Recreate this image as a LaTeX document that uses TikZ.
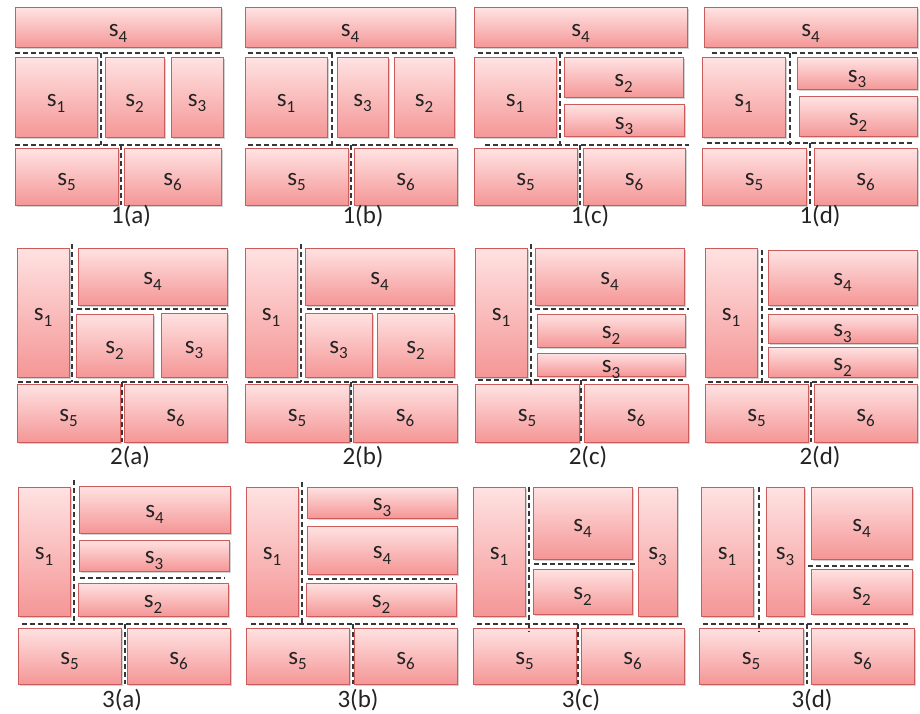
\documentclass[tikz,border=0pt]{standalone}
\usepackage{fontspec}
\setmainfont{Carlito}
\usetikzlibrary{shadows}
\definecolor{btop}{RGB}{255,226,226}
\definecolor{bbot}{RGB}{245,150,150}
\definecolor{bline}{RGB}{204,92,92}
\definecolor{dline}{RGB}{55,55,55}
\definecolor{txt}{RGB}{35,35,35}
\newcommand{\slab}[1]{\raisebox{-5pt}[\height][\depth]{s\raisebox{-0.5ex}{\fontsize{17}{18}\selectfont #1}}}
\tikzset{
  sbox/.style={draw=bline, line width=1pt, top color=btop, bottom color=bbot,
    inner sep=0pt, outer sep=0pt, text=txt,
    drop shadow={shadow xshift=1.5pt, shadow yshift=-1.5pt, opacity=0.25, fill=black!70},
    font=\fontsize{25}{27}\selectfont},
  sep/.style={draw=dline, dash pattern=on 5pt off 3pt, line width=1.2pt},
  captxt/.style={font=\fontsize{25}{27}\selectfont, inner sep=0pt, text=txt}
}
\newcommand{\bx}[6]{\node[sbox, minimum width={(#4)-(#2)}, minimum height={(#5)-(#3)}] (#1) at ({((#2)+(#4))/2},{((#3)+(#5))/2}) {\slab{#6}};}
\begin{document}
\begin{tikzpicture}[x=1pt,y=-1pt]
\useasboundingbox (0,0) rectangle (920,714);
% ---------- 1(a)
\bx{a4}{15}{8}{221}{48}{4}
\bx{a1}{15}{58}{97}{138}{1}
\bx{a2}{105}{58}{164}{138}{2}
\bx{a3}{171}{58}{223}{138}{3}
\bx{a5}{15}{149}{118}{205}{5}
\bx{a6}{124}{149}{221}{205}{6}
\draw[sep] (15,53) -- (221,53);
\draw[sep] (101,53) -- (101,145);
\draw[sep] (15,145) -- (221,145);
\draw[sep] (121,145) -- (121,205);
\node[captxt] (la) at (131,216) {1(a)};
% ---------- 1(b)
\bx{b4}{245}{8}{455}{48}{4}
\bx{b1}{245}{58}{327}{138}{1}
\bx{b3}{337}{58}{388}{138}{3}
\bx{b2}{394}{58}{454}{138}{2}
\bx{b5}{245}{149}{348}{205}{5}
\bx{b6}{354}{149}{457}{205}{6}
\draw[sep] (248,53) -- (453,53);
\draw[sep] (332,53) -- (332,145);
\draw[sep] (248,145) -- (453,145);
\draw[sep] (351,145) -- (351,205);
\node[captxt] (lb) at (363,216) {1(b)};
% ---------- 1(c)
\bx{c4}{474}{8}{687}{48}{4}
\bx{c1}{474}{58}{556}{138}{1}
\bx{c2}{564}{58}{683}{98}{2}
\bx{c3}{564}{105}{684}{137}{3}
\bx{c5}{474}{149}{577}{205}{5}
\bx{c6}{583}{149}{685}{205}{6}
\draw[sep] (478,53) -- (682,53);
\draw[sep] (560,53) -- (560,145);
\draw[sep] (485,145) -- (689,145);
\draw[sep] (580,145) -- (580,205);
\node[captxt] (lc) at (590,216) {1(c)};
% ---------- 1(d)
\bx{d4}{704}{8}{917}{48}{4}
\bx{d1}{702}{58}{785}{138}{1}
\bx{d3}{797}{58}{917}{90}{3}
\bx{d2}{799}{97}{917}{137}{2}
\bx{d5}{702}{149}{806}{205}{5}
\bx{d6}{814}{149}{917}{205}{6}
\draw[sep] (712,53) -- (917,53);
\draw[sep] (790,53) -- (790,145);
\draw[sep] (707,143) -- (912,143);
\draw[sep] (810,143) -- (810,205);
\node[captxt] (ld) at (820,216) {1(d)};
% ---------- 2(a)
\bx{e1}{17}{248}{69}{377}{1}
\bx{e4}{78}{248}{227}{305}{4}
\bx{e2}{76}{314}{153}{377}{2}
\bx{e3}{161}{313}{227}{377}{3}
\bx{e5}{17}{384}{120}{442}{5}
\bx{e6}{124}{384}{227}{442}{6}
\draw[sep] (72,244) -- (72,382);
\draw[sep] (77,309) -- (227,309);
\draw[sep] (18,382) -- (227,382);
\draw[sep] (122,382) -- (122,442);
\node[captxt] (le) at (130,457) {2(a)};
% ---------- 2(b)
\bx{f1}{245}{248}{297}{377}{1}
\bx{f4}{305}{248}{454}{305}{4}
\bx{f3}{305}{313}{372}{377}{3}
\bx{f2}{377}{313}{454}{377}{2}
\bx{f5}{245}{384}{349}{442}{5}
\bx{f6}{353}{384}{457}{442}{6}
\draw[sep] (301,244) -- (301,382);
\draw[sep] (307,309) -- (453,309);
\draw[sep] (248,382) -- (454,382);
\draw[sep] (351,382) -- (351,442);
\node[captxt] (lf) at (363,457) {2(b)};
% ---------- 2(c)
\bx{g1}{475}{248}{527}{377}{1}
\bx{g4}{535}{248}{684}{305}{4}
\bx{g2}{537}{314}{685}{347}{2}
\bx{g3}{537}{353}{685}{376}{3}
\bx{g5}{475}{384}{579}{442}{5}
\bx{g6}{584}{384}{688}{442}{6}
\draw[sep] (531,244) -- (531,385);
\draw[sep] (535,309) -- (689,309);
\draw[sep] (478,380) -- (684,380);
\draw[sep] (581,380) -- (581,442);
\node[captxt] (lg) at (588,457) {2(c)};
% ---------- 2(d)
\bx{h1}{705}{248}{757}{377}{1}
\bx{h4}{768}{250}{917}{305}{4}
\bx{h3}{768}{314}{917}{343}{3}
\bx{h2}{768}{347}{917}{377}{2}
\bx{h5}{705}{384}{808}{442}{5}
\bx{h6}{814}{384}{917}{442}{6}
\draw[sep] (762,250) -- (762,385);
\draw[sep] (768,309) -- (913,309);
\draw[sep] (708,382) -- (913,382);
\draw[sep] (811,382) -- (811,442);
\node[captxt] (lh) at (820,457) {2(d)};
% ---------- 3(a)
\bx{i1}{18}{487}{70}{616}{1}
\bx{i4}{79}{486}{230}{533}{4}
\bx{i3}{79}{540}{229}{571}{3}
\bx{i2}{78}{583}{228}{616}{2}
\bx{i5}{18}{628}{121}{684}{5}
\bx{i6}{127}{628}{230}{684}{6}
\draw[sep] (74,480) -- (74,623);
\draw[sep] (80,578) -- (225,578);
\draw[sep] (22,624) -- (228,624);
\draw[sep] (125,624) -- (125,684);
\node[captxt] (li) at (122,700) {3(a)};
% ---------- 3(b)
\bx{j1}{246}{487}{298}{616}{1}
\bx{j3}{307}{487}{457}{518}{3}
\bx{j4}{307}{526}{457}{574}{4}
\bx{j2}{306}{583}{456}{616}{2}
\bx{j5}{246}{628}{349}{684}{5}
\bx{j6}{354}{628}{457}{684}{6}
\draw[sep] (302,482) -- (302,623);
\draw[sep] (308,579) -- (453,579);
\draw[sep] (251,624) -- (455,624);
\draw[sep] (353,624) -- (353,684);
\node[captxt] (lj) at (358,700) {3(b)};
% ---------- 3(c)
\bx{k1}{473}{487}{525}{616}{1}
\bx{k4}{533}{487}{632}{559}{4}
\bx{k2}{533}{569}{632}{614}{2}
\bx{k3}{638}{487}{677}{616}{3}
\bx{k5}{473}{628}{576}{684}{5}
\bx{k6}{581}{628}{684}{684}{6}
\draw[sep] (529,487) -- (529,632);
\draw[sep] (534,564) -- (635,564);
\draw[sep] (477,624) -- (683,624);
\draw[sep] (578,624) -- (578,684);
\node[captxt] (lk) at (581,700) {3(c)};
% ---------- 3(d)
\bx{l1}{701}{487}{753}{616}{1}
\bx{l3}{766}{487}{804}{616}{3}
\bx{l4}{811}{487}{912}{559}{4}
\bx{l2}{811}{569}{912}{614}{2}
\bx{l5}{699}{628}{803}{684}{5}
\bx{l6}{811}{628}{914}{684}{6}
\draw[sep] (759,487) -- (759,632);
\draw[sep] (808,566) -- (909,566);
\draw[sep] (703,624) -- (909,624);
\draw[sep] (807,624) -- (807,684);
\node[captxt] (ll) at (812,700) {3(d)};
\end{tikzpicture}
\end{document}
